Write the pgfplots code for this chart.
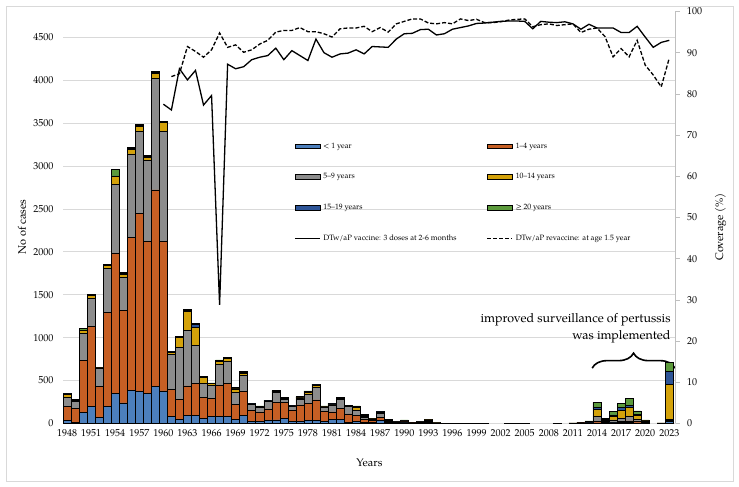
\documentclass[border=0pt]{standalone}
\usepackage{pgfplots}
\pgfplotsset{compat=1.18}
\usepackage{pgfplotstable}
\usetikzlibrary{decorations.pathreplacing}
\usepackage{fontspec}
\setmainfont{TeX Gyre Pagella}

\definecolor{cA}{HTML}{4C7FBC}
\definecolor{cB}{HTML}{C65F24}
\definecolor{cC}{HTML}{8C8C8C}
\definecolor{cD}{HTML}{D4A20A}
\definecolor{cE}{HTML}{2E5597}
\definecolor{cF}{HTML}{5C9A3C}
\definecolor{gridc}{HTML}{D9D9D9}
\definecolor{axc}{HTML}{BFBFBF}

\pgfplotstableread{
year a b c d e f
1948 37 159 109 31 8 5
1949 12 161 85 14 5 5
1950 126 606 318 31 8 16
1951 200 928 334 27 6 5
1952 72 361 210 5 3 3
1953 200 1095 513 30 8 8
1954 350 1632 804 89 11 79
1955 240 1078 388 32 10 9
1956 390 1776 974 54 10 9
1957 378 2070 955 62 12 12
1958 350 1769 943 38 11 11
1959 430 2292 1302 55 12 11
1960 380 1746 1281 101 8 8
1961 80 318 404 23 8 8
1962 50 235 602 117 8 7
1963 99 338 652 214 12 11
1964 99 369 439 213 31 12
1965 60 245 163 70 8 7
1966 80 213 152 19 4 4
1967 80 365 248 35 6 6
1968 80 388 260 27 6 6
1969 45 178 140 39 8 7
1970 99 276 190 19 10 10
1971 21 136 62 6 5 5
1972 28 108 55 7 4 4
1973 33 136 85 6 5 5
1974 41 206 116 8 6 6
1975 56 191 38 6 5 5
1976 21 129 46 4 4 4
1977 21 195 69 14 7 7
1978 40 195 105 23 8 8
1979 40 234 147 20 10 9
1980 25 113 50 6 5 5
1981 45 89 82 9 5 5
1982 49 124 112 6 5 5
1983 10 101 85 6 5 5
1984 21 74 58 35 8 8
1985 14 35 23 15 8 8
1986 10 23 16 6 5 4
1987 40 28 50 12 6 6
1988 10 15 10 5 4 4
1989 5 8 5 3 2 2
1990 8 12 10 5 3 3
1991 3 5 4 2 2 1
1992 5 8 6 3 2 1
1993 10 15 12 5 3 3
1994 2 3 2 1 1 1
1995 1 1 1 0 0 0
1996 1 1 1 0 0 0
1997 1 1 1 0 0 0
1998 1 1 1 0 0 0
1999 1 1 1 0 0 0
2000 1 1 1 0 0 0
2003 1 1 1 0 0 0
2004 1 1 1 0 0 0
2005 1 1 1 0 0 0
2009 1 1 1 0 0 0
2011 2 2 2 1 1 0
2012 4 4 4 2 1 1
2013 8 8 8 3 2 1
2014 8 17 60 80 25 55
2015 5 8 15 10 8 10
2016 8 8 25 45 15 37
2017 10 12 40 95 30 48
2018 12 18 50 110 25 82
2019 8 15 30 40 12 41
2020 5 8 10 8 5 5
2022 2 2 2 1 1 0
2023 21 16 15 408 144 105
}\cases

\pgfplotstableread{
year v
1960 77.5
1961 76.1
1962 86.1
1963 83.4
1964 85.7
1965 77.3
1966 79.6
1967 28.8
1968 87.2
1969 86.1
1970 86.6
1971 88.3
1972 88.9
1973 89.3
1974 91.1
1975 88.3
1976 90.5
1977 89.3
1978 88.1
1979 93.3
1980 90.0
1981 88.9
1982 89.7
1983 89.9
1984 90.7
1985 89.7
1986 91.5
1987 91.4
1988 91.3
1989 93.3
1990 94.6
1991 94.7
1992 95.6
1993 95.7
1994 94.3
1995 94.6
1996 95.7
1997 96.1
1998 96.5
1999 97.1
2000 97.2
2001 97.4
2002 97.6
2003 97.7
2004 97.7
2005 97.6
2006 95.8
2007 97.6
2008 97.4
2009 97.3
2010 97.5
2011 97.0
2012 95.7
2013 96.9
2014 96.0
2015 96.0
2016 96.0
2017 94.9
2018 94.9
2019 96.4
2020 93.8
2021 91.3
2022 92.5
2023 93.0
}\covA

\pgfplotstableread{
year v
1961 84.2
1962 84.9
1963 91.5
1964 90.3
1965 88.9
1966 90.7
1967 94.8
1968 91.3
1969 91.9
1970 90.1
1971 90.7
1972 92.1
1973 93.0
1974 95.0
1975 95.4
1976 95.4
1977 96.1
1978 95.1
1979 95.1
1980 94.6
1981 93.8
1982 95.8
1983 96.0
1984 96.0
1985 96.4
1986 95.1
1987 96.1
1988 95.0
1989 97.0
1990 97.6
1991 98.2
1992 98.2
1993 97.2
1994 97.0
1995 97.3
1996 97.0
1997 98.2
1998 97.8
1999 98.1
2000 97.3
2001 97.3
2002 97.5
2003 97.9
2004 98.1
2005 98.2
2006 96.3
2007 96.8
2008 97.0
2009 96.6
2010 96.8
2011 97.0
2012 94.9
2013 95.7
2014 96.0
2015 93.9
2016 89.0
2017 91.0
2018 89.0
2019 93.0
2020 87.0
2021 84.6
2022 81.7
2023 88.7
}\covB

\begin{document}
\begin{tikzpicture}[x=1pt,y=1pt]
\useasboundingbox (0,0) rectangle (739,487);
\draw[gridc, line width=0.75pt] (6,6) rectangle (733,481);

\begin{axis}[
  at={(63pt,63.5pt)}, anchor=south west,
  scale only axis, width=612.7pt, height=412pt,
  xmin=1947.5, xmax=2023.8, ymin=0, ymax=4800,
  ybar stacked, bar width=1,
  axis line style={draw=none},
  tick style={draw=none},
  ytick={0,500,...,4500},
  xtick={1948,1951,...,2023},
  ymajorgrids, grid style={gridc, line width=0.75pt},
  /pgf/number format/assume math mode=true,
  /pgf/number format/1000 sep={},
  tick label style={font=\fontsize{10}{12}\selectfont},
  yticklabel style={anchor=east, xshift=-6pt},
  xticklabel style={anchor=center, yshift=-10pt},
  ylabel={No of cases},
  xlabel={Years},
  every axis y label/.style={at={(axis description cs:0,0.477)}, rotate=90, anchor=center, yshift=41pt, font=\fontsize{11}{13}\selectfont},
  every axis x label/.style={at={(axis description cs:0.5,0)}, anchor=center, yshift=-39.5pt, font=\fontsize{11}{13}\selectfont},
]
\addplot[fill=cA, draw=black, line width=0.5pt] table[x=year,y=a] {\cases};
\addplot[fill=cB, draw=black, line width=0.5pt] table[x=year,y=b] {\cases};
\addplot[fill=cC, draw=black, line width=0.5pt] table[x=year,y=c] {\cases};
\addplot[fill=cD, draw=black, line width=0.5pt] table[x=year,y=d] {\cases};
\addplot[fill=cE, draw=black, line width=0.5pt] table[x=year,y=e] {\cases};
\addplot[fill=cF, draw=black, line width=0.5pt] table[x=year,y=f] {\cases};
\draw[decorate, decoration={brace, amplitude=15pt}, line width=1.6pt] (axis cs:2013.4,645) -- (axis cs:2023.7,645);
\node[anchor=base east, font=\fontsize{12.5}{14}\selectfont] at (axis cs:2023.6,1182) {improved surveillance of pertussis};
\node[anchor=base east, font=\fontsize{12.5}{14}\selectfont] at (axis cs:2023.6,973) {was implemented};
\end{axis}

\begin{axis}[
  at={(63pt,63.5pt)}, anchor=south west,
  scale only axis, width=612.7pt, height=412pt,
  xmin=1947.5, xmax=2023.8, ymin=0, ymax=100,
  axis x line=none, axis y line*=right,
  y axis line style={axc, line width=0.75pt},
  ytick={0,10,...,100},
  ytick style={axc, line width=0.75pt}, tick align=outside, major tick length=4pt,
  /pgf/number format/assume math mode=true,
  tick label style={font=\fontsize{10}{12}\selectfont},
  yticklabel style={anchor=west, xshift=4pt},
  ylabel={Coverage (\%)},
  every axis y label/.style={at={(axis description cs:1,0.477)}, rotate=90, anchor=center, yshift=-45pt, font=\fontsize{11}{13}\selectfont},
  legend columns=2,
  legend cell align=left,
  legend style={draw=none, fill=none, at={(0.377,0.682)}, anchor=north west,
    font=\fontsize{7.7}{9}\selectfont, inner sep=0pt, row sep=24pt,
    /tikz/column sep=3pt, nodes={inner sep=0pt}},
]
\addlegendimage{legend image code/.code={\draw[fill=cA,draw=black,line width=0.6pt] (0pt,-2.2pt) rectangle (25pt,2.2pt);}}
\addlegendentry{\makebox[160pt][l]{< 1 year}}
\addlegendimage{legend image code/.code={\draw[fill=cB,draw=black,line width=0.6pt] (0pt,-2.2pt) rectangle (25pt,2.2pt);}}
\addlegendentry{1–4 years}
\addlegendimage{legend image code/.code={\draw[fill=cC,draw=black,line width=0.6pt] (0pt,-2.2pt) rectangle (25pt,2.2pt);}}
\addlegendentry{\makebox[160pt][l]{5–9 years}}
\addlegendimage{legend image code/.code={\draw[fill=cD,draw=black,line width=0.6pt] (0pt,-2.2pt) rectangle (25pt,2.2pt);}}
\addlegendentry{10–14 years}
\addlegendimage{legend image code/.code={\draw[fill=cE,draw=black,line width=0.6pt] (0pt,-2.2pt) rectangle (25pt,2.2pt);}}
\addlegendentry{\makebox[160pt][l]{15–19 years}}
\addlegendimage{legend image code/.code={\draw[fill=cF,draw=black,line width=0.6pt] (0pt,-2.2pt) rectangle (25pt,2.2pt);}}
\addlegendentry{≥ 20 years}
\addplot[black, line width=1.3pt, legend image code/.code={\draw[black, line width=1.3pt] (0pt,0pt) -- (25pt,0pt);}] table[x=year,y=v] {\covA};
\addlegendentry{\makebox[160pt][l]{DTw/aP vaccine: 3 doses at 2-6 months}}
\addplot[black, line width=1.3pt, dash pattern=on 4pt off 2pt, legend image code/.code={\draw[black, line width=1.3pt, dash pattern=on 4pt off 2pt] (0pt,0pt) -- (25pt,0pt);}] table[x=year,y=v] {\covB};
\addlegendentry{DTw/aP revaccine: at age 1.5 year}
\end{axis}
\end{tikzpicture}
\end{document}
